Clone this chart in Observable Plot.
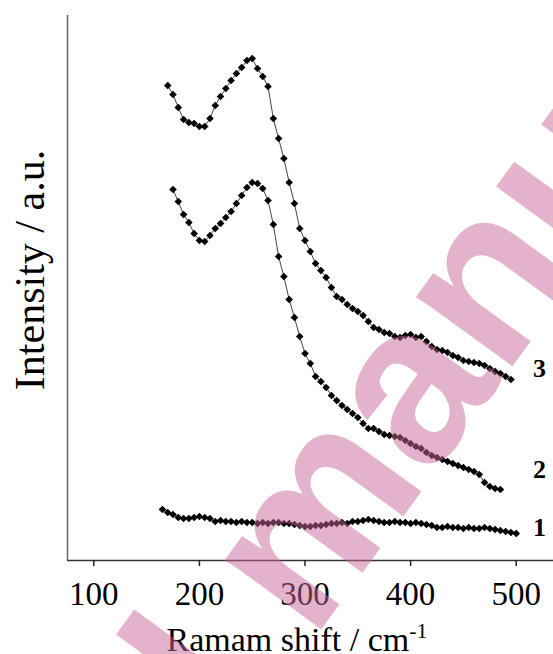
<!DOCTYPE html>
<html>
<head>
<meta charset="utf-8">
<script src="https://cdn.jsdelivr.net/npm/d3@7"></script>
<script src="https://cdn.jsdelivr.net/npm/@observablehq/plot@0.6"></script>
<style>
  html, body { margin: 0; padding: 0; background: #fff; }
  #chart { width: 553px; height: 654px; overflow: hidden; }
</style>
</head>
<body>
<div id="chart"></div>
<script>
// Raman shift (cm^-1) and intensity (a.u.)
const shift1 = [165,170,175,180,185,190,195,200,205,210,215,220,225,230,235,240,245,250,255,260,265,270,275,280,285,290,295,300,305,310,315,320,325,330,335,340,345,350,355,360,365,370,375,380,385,390,395,400,405,410,415,420,425,430,435,440,445,450,455,460,465,470,475,480,485,490,495,500];
const intensity1 = [51,48,46,43,42,42,43,44,43,42,39,40,39,39,38,39,38,38,37,38,37,38,38,37,37,36,35,34,34,35,35,36,37,37,38,37,39,39,40,41,40,39,38,38,39,38,38,37,38,37,36,35,33,33,34,33,33,32,33,32,32,33,32,31,30,29,28,27];

const shift2 = [175,180,185,190,195,200,205,210,215,220,225,230,235,240,245,250,255,260,265,270,275,280,285,290,295,300,305,310,315,320,325,330,335,340,345,350,355,360,365,370,375,380,385,390,395,400,405,410,415,420,425,430,435,440,445,450,455,460,465,470,475,480,485];
const intensity2 = [371,359,346,338,327,320,319,325,332,337,343,349,357,365,373,378,377,372,360,336,304,284,261,243,224,207,197,184,179,173,165,160,155,151,147,143,137,132,132,129,126,125,124,123,120,117,114,112,108,105,103,101,99,97,95,93,91,89,86,78,74,72,71];

const shift3 = [170,175,180,185,190,195,200,205,210,215,220,225,230,235,240,245,250,255,260,265,270,275,280,285,290,295,300,305,310,315,320,325,330,335,340,345,350,355,360,365,370,375,380,385,390,395,400,405,410,415,420,425,430,435,440,445,450,455,460,465,470,475,480,485,490,495];
const intensity3 = [475,466,453,441,438,437,434,434,442,455,464,472,480,487,493,500,502,492,484,474,442,422,402,378,357,332,320,309,297,290,283,273,264,261,256,252,249,245,239,233,231,228,227,224,223,225,226,223,224,219,214,211,210,208,205,203,200,199,198,197,195,192,189,187,184,181];

const xTicks = [100, 200, 300, 400, 500];
const curveNames = ["1", "2", "3"];
const labelShift = [522, 522, 522];
const labelIntensity = [33, 91, 192];

const series = [
  {name: "1", x: shift1, y: intensity1},
  {name: "2", x: shift2, y: intensity2},
  {name: "3", x: shift3, y: intensity3}
];
const data = series.flatMap(s => s.x.map((x, i) => ({name: s.name, x, y: s.y[i]})));
const labels = curveNames.map((n, i) => ({name: n, x: labelShift[i], y: labelIntensity[i]}));

// square-proportioned diamond marker
const squareDiamond = {
  draw(context, size) {
    const h = Math.sqrt(size) / 2;
    context.moveTo(0, -h);
    context.lineTo(h, 0);
    context.lineTo(0, h);
    context.lineTo(-h, 0);
    context.closePath();
  }
};

const serif = "'Liberation Serif', 'Times New Roman', Times, serif";
const xDomain = [75.1, 535.3];

const plot = Plot.plot({
  width: 553,
  height: 654,
  marginLeft: 67,
  marginRight: 0,
  marginTop: 15,
  marginBottom: 94,
  style: {fontFamily: serif, fontSize: "33px", background: "white", color: "#111"},
  x: {domain: xDomain},
  y: {domain: [0, 545], axis: null},
  marks: [
    Plot.ruleY([0], {stroke: "#333", strokeWidth: 1.5}),
    Plot.ruleX([xDomain[0]], {stroke: "#666", strokeWidth: 1.5}),
    Plot.axisX({ticks: xTicks, tickSize: 6, tickPadding: 15, label: null, stroke: "#222", strokeWidth: 1.5, fontSize: 33, fill: "#000"}),
    Plot.line(data, {x: "x", y: "y", z: "name", stroke: "#444", strokeWidth: 1}),
    Plot.dot(data, {x: "x", y: "y", symbol: squareDiamond, fill: "#000", r: 4.3}),
    Plot.text(labels, {x: "x", y: "y", text: "name", fontWeight: "bold", fontSize: 26, fontFamily: serif, fill: "#000"})
  ]
});

const svg = d3.select(plot);
// x-axis title with superscript
const xt = svg.append("text")
  .attr("x", 297).attr("y", 651)
  .attr("text-anchor", "middle")
  .style("font-family", serif).style("font-size", "34px").attr("fill", "#000");
xt.append("tspan").text("Ramam shift / cm");
xt.append("tspan").attr("font-size", "22px").attr("dy", "-13").text("-1");

// y-axis title
svg.append("text")
  .attr("transform", "translate(44,270) rotate(-90)")
  .attr("text-anchor", "middle")
  .style("font-family", serif).style("font-size", "42px").attr("fill", "#000")
  .text("Intensity / a.u.");

// watermark
const wm = svg.append("g")
  .attr("transform", "translate(312,642) rotate(-54)")
  .attr("fill", "#c76597").attr("fill-opacity", 0.5)
  .style("font-family", "'Liberation Sans', Arial, sans-serif")
  .style("font-weight", "bold").style("font-size", "225px");
wm.append("text").attr("text-anchor", "end").text("Accepted ");
wm.append("text").attr("text-anchor", "start").text("manuscript");

document.getElementById("chart").appendChild(plot);
</script>
</body>
</html>
